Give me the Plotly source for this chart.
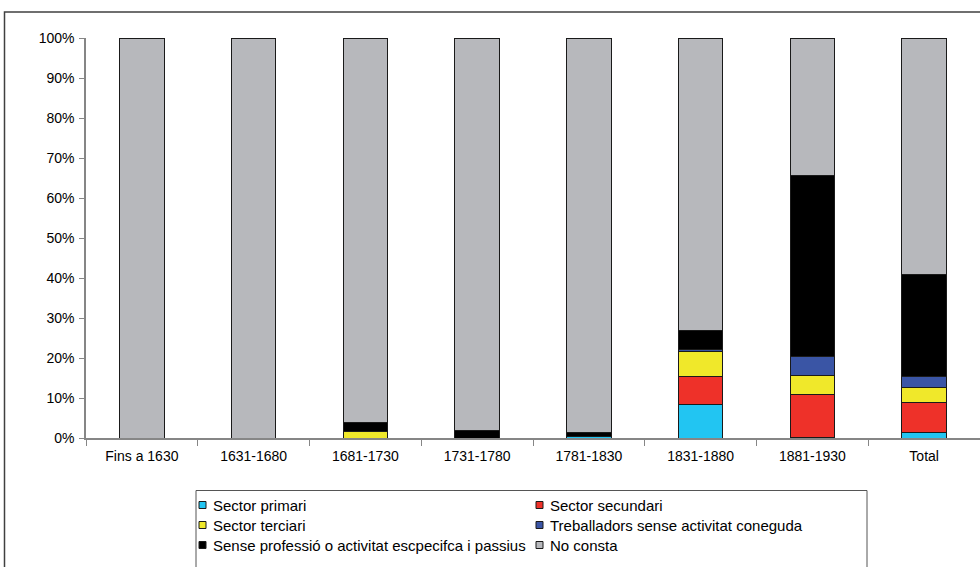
import plotly.graph_objects as go

# ---- data (in %) ----
categories = ["Fins a 1630", "1631-1680", "1681-1730", "1731-1780",
              "1781-1830", "1831-1880", "1881-1930", "Total"]
sector_primari = [0, 0, 0, 0, 0.3, 8.3, 0.2, 1.4]
sector_secundari = [0, 0, 0, 0, 0, 7.0, 10.7, 7.6]
sector_terciari = [0, 0, 1.6, 0, 0, 6.3, 4.7, 3.7]
treballadors = [0, 0, 0, 0, 0, 0.5, 4.7, 2.6]
sense_professio = [0, 0, 2.2, 2.0, 1.0, 4.9, 45.4, 25.7]
no_consta = [100, 100, 96.2, 98.0, 98.7, 73.0, 34.3, 59.0]

series_names = ["Sector primari", "Sector secundari", "Sector terciari",
                "Treballadors sense activitat coneguda",
                "Sense professió o activitat escpecifca i passius", "No consta"]
series_values = [sector_primari, sector_secundari, sector_terciari,
                 treballadors, sense_professio, no_consta]
series_colors = ["#22C5F2", "#EE3129", "#F0E82A", "#3A55A5", "#000000", "#B7B8BC"]
y_ticks = [0, 10, 20, 30, 40, 50, 60, 70, 80, 90, 100]

FONT = "Liberation Sans, Arial, sans-serif"
W, H = 980, 567
L, R, T, B = 86, 0, 38, 129
PW, PH = W - L - R, H - T - B


def px_x(x):
    return (x - L) / PW


def px_y(y):
    return (H - B - y) / PH


fig = go.Figure()
for name, vals, col in zip(series_names, series_values, series_colors):
    fig.add_trace(go.Bar(
        x=categories, y=vals, name=name,
        marker=dict(color=col, line=dict(color="#1a1a1a", width=1)),
        showlegend=False,
    ))

shapes = []
annotations = []

# outer chart frame
shapes.append(dict(type="rect", xref="paper", yref="paper",
                   x0=px_x(4.5), x1=px_x(1000), y0=px_y(12), y1=px_y(700),
                   line=dict(color="#404040", width=1.5), fillcolor="rgba(0,0,0,0)",
                   layer="below"))

# legend box
shapes.append(dict(type="rect", xref="paper", yref="paper",
                   x0=px_x(196), x1=px_x(867), y0=px_y(490.5), y1=px_y(700),
                   line=dict(color="#555555", width=1), fillcolor="white",
                   layer="below"))

sq_x = [199, 536]
tx_x = [211, 548]
row_y0 = 505
row_dy = 20
for i, (name, col) in enumerate(zip(series_names, series_colors)):
    c, r = i % 2, i // 2
    yc = row_y0 + r * row_dy
    shapes.append(dict(type="rect", xref="paper", yref="paper",
                       x0=px_x(sq_x[c]), x1=px_x(sq_x[c] + 7),
                       y0=px_y(yc - 3.5), y1=px_y(yc + 3.5),
                       line=dict(color="#1a1a1a", width=1), fillcolor=col))
    annotations.append(dict(xref="paper", yref="paper", x=px_x(tx_x[c]), y=px_y(yc),
                            xanchor="left", yanchor="middle", showarrow=False,
                            text=name, font=dict(family=FONT, size=15, color="#000000")))

fig.update_layout(
    width=W, height=H,
    margin=dict(l=L, r=R, t=T, b=B, pad=0),
    paper_bgcolor="white", plot_bgcolor="white",
    barmode="stack", bargap=0.6,
    font=dict(family=FONT, size=14, color="#000000"),
    shapes=shapes, annotations=annotations,
    showlegend=False,
)
fig.update_xaxes(
    showline=True, linecolor="#868686", linewidth=1.5,
    ticks="outside", tickson="boundaries", ticklen=6, tickcolor="#868686",
    tickfont=dict(family=FONT, size=14, color="#000000"), ticklabelstandoff=4,
    showgrid=False, range=[-0.5, 7.5], fixedrange=True,
)
fig.update_yaxes(
    range=[0, 100], tickvals=y_ticks, ticktext=[f"{v}%" for v in y_ticks],
    showline=True, linecolor="#868686", linewidth=1.5,
    ticks="outside", ticklen=5, tickcolor="#868686",
    tickfont=dict(family=FONT, size=14, color="#000000"), ticklabelstandoff=2,
    showgrid=False, zeroline=False, fixedrange=True,
)

fig.write_html("out.html", config={"displayModeBar": False},
               post_script="document.body.style.margin='0';document.body.style.overflow='hidden';")
